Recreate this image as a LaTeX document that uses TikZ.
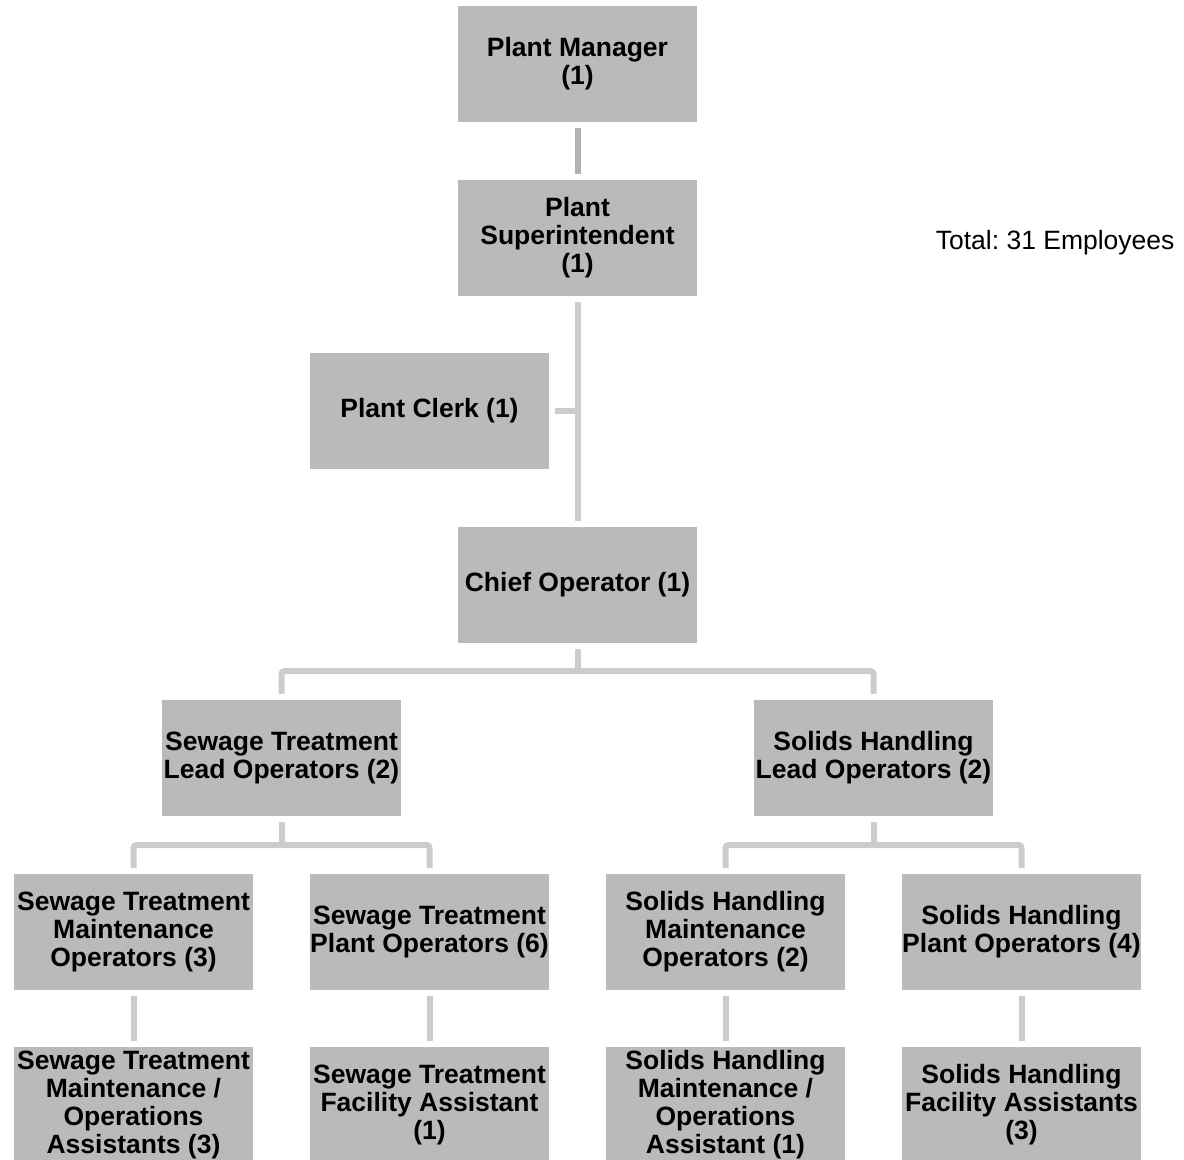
\documentclass[tikz,border=0pt]{standalone}
\usepackage{fontspec}
\setmainfont{Liberation Sans}
\frenchspacing
\definecolor{boxgray}{RGB}{186,186,186}
\definecolor{linkgray}{RGB}{204,204,204}
\definecolor{linkdark}{RGB}{178,178,178}
\begin{document}
\begin{tikzpicture}[x=1bp,y=-1bp,
  role/.style={rectangle, fill=boxgray, minimum width=239bp, minimum height=116bp,
    inner sep=0pt, align=center,
    font=\fontsize{26.5bp}{28bp}\selectfont\bfseries},
  conn/.style={draw=linkgray, line width=6bp, shorten <=6bp, shorten >=6bp},
  elbow/.style={conn, rounded corners=3bp}
]
\useasboundingbox (0,0) rectangle (1184,1160);
\clip (0,0) rectangle (1184,1160);

% top of the chain
\node[role] (pm)    at (577.5,64)  {Plant Manager\\(1)};
\node[role] (ps)    at (577.5,238) {Plant\\Superintendent\\(1)};
\node[role] (clerk) at (429.5,411) {Plant Clerk (1)};
\node[role] (chief) at (577.5,585) {Chief Operator (1)};

% lead operators
\node[role] (stl) at (281.5,758) {Sewage Treatment\\Lead Operators (2)};
\node[role] (shl) at (873.5,758) {Solids Handling\\Lead Operators (2)};

% operators
\node[role] (stm) at (133.5,932)  {Sewage Treatment\\Maintenance\\Operators (3)};
\node[role] (stp) at (429.5,932)  {Sewage Treatment\\Plant Operators (6)};
\node[role] (shm) at (725.5,932)  {Solids Handling\\Maintenance\\Operators (2)};
\node[role] (shp) at (1021.5,932) {Solids Handling\\Plant Operators (4)};

% assistants
\node[role] (sta) at (133.5,1105)  {Sewage Treatment\\Maintenance /\\Operations\\Assistants (3)};
\node[role] (stf) at (429.5,1105)  {Sewage Treatment\\Facility Assistant\\(1)};
\node[role] (sha) at (725.5,1105)  {Solids Handling\\Maintenance /\\Operations\\Assistant (1)};
\node[role] (shf) at (1021.5,1105) {Solids Handling\\Facility Assistants\\(3)};

\node[font=\fontsize{26.5bp}{28bp}\selectfont, anchor=east] (total) at (1178,243) {Total: 31 Employees};

% reporting lines
\draw[conn, draw=linkdark] (pm) -- (ps);
\draw[conn] (ps) -- (chief);
\draw[conn, shorten >=0pt] (clerk.east) -- (clerk.east -| ps.south);

\coordinate (bus1) at (577.5,671);
\coordinate (bus2) at (281.5,845);
\coordinate (bus3) at (873.5,845);

\draw[conn, shorten >=0pt] (chief) -- (bus1);
\draw[elbow] (stl.north) |- (bus1) -| (shl.north);

\draw[conn, shorten >=0pt] (stl) -- (bus2);
\draw[elbow] (stm.north) |- (bus2) -| (stp.north);

\draw[conn, shorten >=0pt] (shl) -- (bus3);
\draw[elbow] (shm.north) |- (bus3) -| (shp.north);

\draw[conn] (stm) -- (sta);
\draw[conn] (stp) -- (stf);
\draw[conn] (shm) -- (sha);
\draw[conn] (shp) -- (shf);
\end{tikzpicture}
\end{document}
